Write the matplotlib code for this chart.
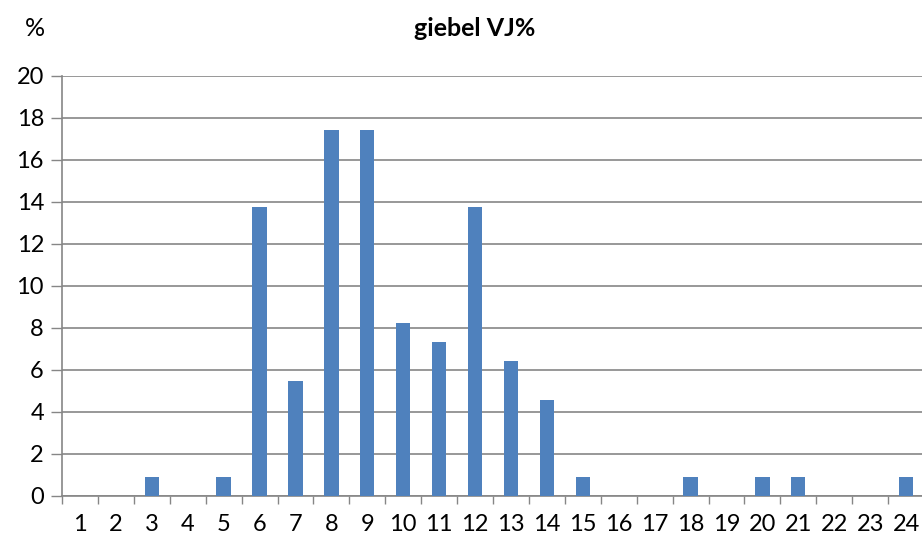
import matplotlib
matplotlib.use("Agg")
import matplotlib.pyplot as plt
import numpy as np

categories = list(range(1, 25))
values = [0, 0, 0.92, 0, 0.92, 13.76, 5.50, 17.43, 17.43, 8.26, 7.34, 13.76,
          6.42, 4.59, 0.92, 0, 0, 0.92, 0, 0.92, 0.92, 0, 0, 0.92]
y_ticks = list(range(0, 21, 2))

plt.rcParams['font.family'] = ['Lato', 'DejaVu Sans']

W, H = 922, 540
fig = plt.figure(figsize=(W / 100, H / 100), dpi=100)
ax = fig.add_axes([62 / W, (H - 496) / H, (924 - 62) / W, (496 - 76) / H])

grid_c = '#868686'
ax.bar(categories, values, width=0.4, color='#4F81BD', zorder=3)

ax.set_xlim(0.5, 24.5)
ax.set_ylim(0, 20)
ax.set_yticks(y_ticks)
ax.set_yticklabels([str(t) for t in y_ticks], fontsize=17)
ax.set_xticks(categories)
ax.set_xticklabels([str(c) for c in categories], fontsize=17)
ax.set_xticks(np.arange(0.5, 25, 1), minor=True)

ax.tick_params(axis='x', which='major', length=0, pad=13, colors='black')
ax.tick_params(axis='x', which='minor', length=6, width=1, color=grid_c)
ax.tick_params(axis='y', which='major', length=8, width=1, color=grid_c, pad=5)

ax.yaxis.grid(True, color=grid_c, linewidth=1.2, zorder=0)
ax.set_axisbelow(True)
for s in ['top', 'right']:
    ax.spines[s].set_visible(False)
for s in ['left', 'bottom']:
    ax.spines[s].set_color(grid_c)
    ax.spines[s].set_linewidth(1.2)

fig.text(475 / W, 1 - 28 / H, 'giebel VJ%', ha='center', va='center',
         fontsize=18, fontweight='bold')
fig.text(35 / W, 1 - 28 / H, '%', ha='center', va='center', fontsize=18)

fig.savefig('out.png', dpi=100)
